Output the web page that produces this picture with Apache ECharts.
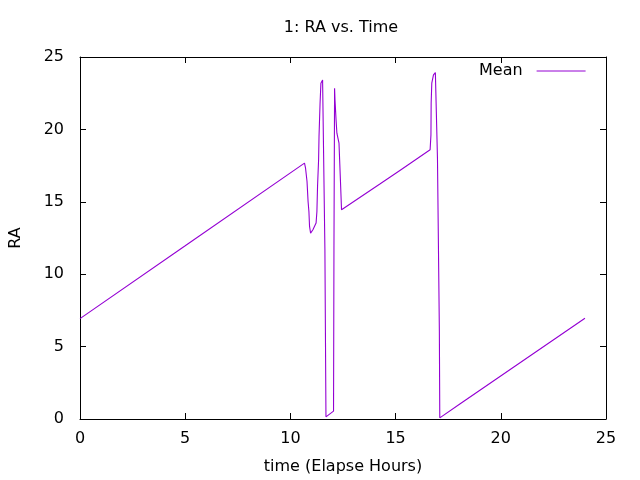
<!DOCTYPE html>
<html>
<head>
<meta charset="utf-8">
<title>1: RA vs. Time</title>
<script src="https://cdn.jsdelivr.net/npm/echarts@6/dist/echarts.min.js"></script>
<style>
  html, body { margin: 0; padding: 0; background: #fff; }
  #chart { width: 640px; height: 480px; }
</style>
</head>
<body>
<div id="chart"></div>
<script>
// elapsed hours and mean RA
var timeHours = [0, 5, 10.67, 10.72, 10.79, 10.84, 10.88, 10.91, 10.96, 11.07, 11.22, 11.26, 11.29, 11.34,
  11.36, 11.41, 11.45, 11.53, 11.61, 11.64, 11.69, 12.05, 12.07, 12.10, 12.12, 12.17, 12.21,
  12.31, 12.34, 12.38, 12.43, 14.27, 15.22, 16.64, 16.68, 16.69, 16.72, 16.80, 16.89, 16.96,
  16.99, 17.08, 17.10, 18.07, 24.0];
var raMean = [6.93, 11.96, 17.67, 17.32, 16.40, 15.02, 14.33, 13.30, 12.84, 13.07, 13.53, 14.33, 16.06, 17.90,
  19.50, 21.81, 23.19, 23.41, 23.30, 11.69, 0.15, 0.54, 11.69, 22.84, 22.03, 20.66, 19.74,
  19.05, 17.90, 16.40, 14.45, 16.25, 17.18, 18.59, 19.62, 21.81, 23.19, 23.76, 23.92, 23.88,
  18.01, 6.06, 0.08, 1.05, 6.96];
var xTicks = [0, 5, 10, 15, 20, 25];
var yTicks = [0, 5, 10, 15, 20, 25];

var font = 'DejaVu Sans';
var lineColor = '#9400d3';

var points = timeHours.map(function (t, i) { return [t, raMean[i]]; });

function xAxisCfg(pos, labels) {
  return {
    type: 'value', position: pos,
    min: xTicks[0], max: xTicks[xTicks.length - 1], interval: xTicks[1] - xTicks[0],
    axisLine: { show: true, onZero: false, lineStyle: { color: '#000', width: 1 } },
    axisTick: { show: true, inside: true, length: 6, lineStyle: { color: '#000' } },
    axisLabel: { show: labels, margin: 12, color: '#000', fontFamily: font, fontSize: 16 },
    splitLine: { show: false }
  };
}
function yAxisCfg(pos, labels) {
  return {
    type: 'value', position: pos,
    min: yTicks[0], max: yTicks[yTicks.length - 1], interval: yTicks[1] - yTicks[0],
    axisLine: { show: true, onZero: false, lineStyle: { color: '#000', width: 1 } },
    axisTick: { show: true, inside: true, length: 6, lineStyle: { color: '#000' } },
    axisLabel: { show: labels, margin: 16, color: '#000', fontFamily: font, fontSize: 16 },
    splitLine: { show: false }
  };
}

var xBottom = xAxisCfg('bottom', true);
xBottom.name = 'time (Elapse Hours)';
xBottom.nameLocation = 'middle';
xBottom.nameGap = 40;
xBottom.nameTextStyle = { color: '#000', fontFamily: font, fontSize: 16 };

var yLeft = yAxisCfg('left', true);
yLeft.name = 'RA';
yLeft.nameLocation = 'middle';
yLeft.nameGap = 56;
yLeft.nameTextStyle = { color: '#000', fontFamily: font, fontSize: 16 };

var option = {
  animation: false,
  backgroundColor: '#fff',
  title: {
    text: '1: RA vs. Time',
    left: 336, top: 15, textAlign: 'center',
    textStyle: { color: '#000', fontFamily: font, fontSize: 16, fontWeight: 'normal' }
  },
  legend: {
    data: ['Mean'],
    left: 479, top: 63, padding: 0,
    align: 'right',
    itemWidth: 49, itemHeight: 16,
    itemStyle: { opacity: 0 },
    lineStyle: { color: lineColor, width: 1 },
    textStyle: { color: '#000', fontFamily: font, fontSize: 16, padding: [0, 9, 0, 0] }
  },
  grid: { left: 80, right: 34, top: 57, bottom: 61 },
  xAxis: [xBottom, xAxisCfg('top', false)],
  yAxis: [yLeft, yAxisCfg('right', false)],
  series: [{
    name: 'Mean',
    type: 'line',
    data: points,
    symbol: 'none',
    showSymbol: false,
    lineStyle: { color: lineColor, width: 1.1 },
    itemStyle: { color: lineColor }
  }]
};

var chart = echarts.init(document.getElementById('chart'));
chart.setOption(option);
</script>
</body>
</html>
